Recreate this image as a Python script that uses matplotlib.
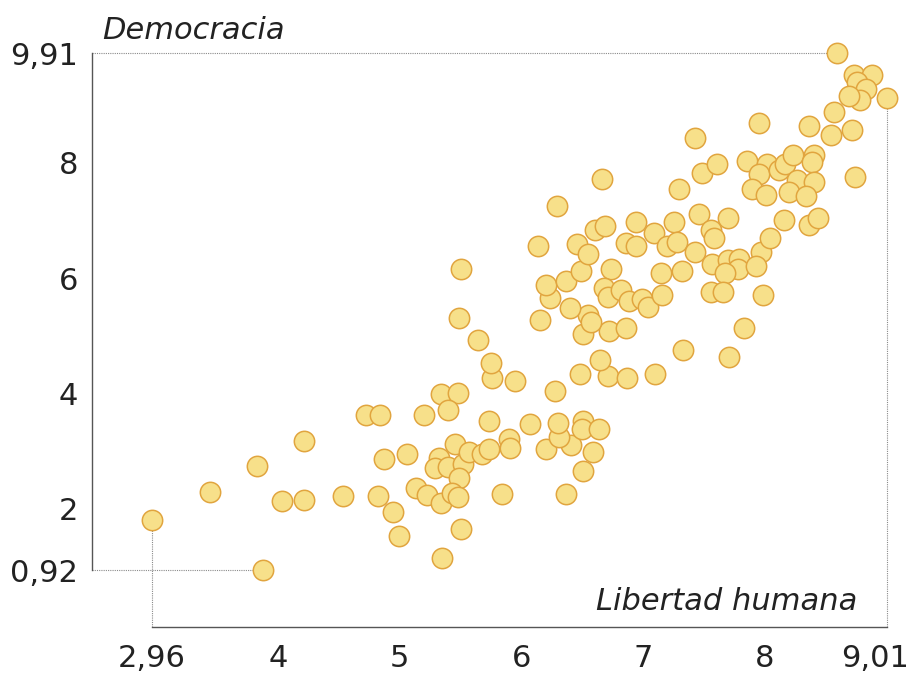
import matplotlib.pyplot as plt
from matplotlib.transforms import ScaledTranslation

plt.rcParams['font.family'] = ['DejaVu Sans']

# Libertad humana (x) vs Democracia (y), one point per country
libertad = [
    2.96, 3.44, 3.82, 3.87, 4.03, 4.21, 4.21, 4.53, 4.72, 4.84,
    4.87, 5.06, 4.82, 4.94, 4.99, 5.13, 5.20, 5.22, 5.34, 5.48,
    5.40, 5.45, 5.32, 5.29, 5.40, 5.52, 5.49, 5.34, 5.43, 5.48,
    5.50, 5.35, 5.57, 5.68, 5.73, 5.90, 5.91, 5.84, 6.37, 6.51,
    6.20, 6.59, 6.41, 6.31, 6.51, 6.50, 6.64, 6.30, 6.07, 5.73,
    6.28, 5.76, 5.95, 6.48, 6.71, 6.87, 7.10, 6.65, 7.33, 7.71,
    5.75, 5.64, 5.49, 5.50, 6.15, 6.51, 6.72, 6.86, 6.55, 6.57,
    6.40, 6.24, 6.20, 6.37, 6.49, 6.74, 6.68, 6.71, 6.82, 6.89,
    6.99, 7.04, 7.16, 7.15, 7.32, 6.14, 6.46, 6.55, 6.29, 6.66,
    6.61, 6.69, 6.94, 6.86, 6.94, 7.09, 7.20, 7.26, 7.28, 7.30,
    7.49, 7.61, 7.43, 7.46, 7.70, 7.56, 7.59, 7.43, 7.57, 7.70,
    7.79, 7.78, 7.68, 7.97, 7.93, 8.05, 8.16, 8.37, 8.44, 7.56,
    7.66, 7.99, 7.83, 7.86, 8.02, 7.96, 8.12, 8.17, 8.24, 8.41,
    8.39, 8.27, 8.41, 7.90, 8.01, 8.20, 8.34, 8.75, 7.96, 8.37,
    8.57, 8.55, 8.72, 8.60, 8.74, 8.89, 8.76, 8.84, 8.79, 8.70,
    9.01,
]
democracia = [
    1.80, 2.29, 2.74, 0.92, 2.13, 2.14, 3.17, 2.22, 3.62, 3.62,
    2.85, 2.95, 2.21, 1.94, 1.51, 2.35, 3.62, 2.23, 3.99, 4.00,
    3.71, 3.12, 2.88, 2.70, 2.72, 2.77, 2.52, 2.09, 2.26, 2.19,
    1.64, 1.13, 2.98, 2.94, 3.03, 3.20, 3.04, 2.25, 2.25, 2.64,
    3.03, 2.98, 3.10, 3.24, 3.51, 3.38, 3.37, 3.48, 3.46, 3.52,
    4.03, 4.26, 4.21, 4.34, 4.29, 4.27, 4.33, 4.58, 4.75, 4.62,
    4.52, 4.93, 5.31, 6.15, 5.27, 5.03, 5.08, 5.13, 5.36, 5.24,
    5.48, 5.65, 5.88, 5.95, 6.12, 6.15, 5.82, 5.67, 5.79, 5.61,
    5.63, 5.49, 5.71, 6.08, 6.12, 6.55, 6.60, 6.41, 7.26, 7.72,
    6.84, 6.91, 6.98, 6.61, 6.55, 6.78, 6.55, 6.98, 6.62, 7.54,
    7.82, 7.99, 8.44, 7.11, 7.04, 6.84, 6.69, 6.45, 6.24, 6.31,
    6.33, 6.16, 6.09, 6.46, 6.21, 6.69, 7.01, 6.92, 7.05, 5.76,
    5.76, 5.71, 5.13, 8.03, 7.99, 7.81, 7.87, 7.98, 8.14, 8.14,
    8.02, 7.70, 7.67, 7.54, 7.44, 7.49, 7.43, 7.76, 8.69, 8.64,
    8.89, 8.49, 8.57, 9.91, 9.53, 9.53, 9.40, 9.28, 9.10, 9.16,
    9.12,
]

x_min, x_max = min(libertad), max(libertad)
y_min, y_max = min(democracia), max(democracia)
x_ticks = [x_min, 4, 5, 6, 7, 8, x_max]
y_ticks = [y_min, 2, 4, 6, 8, y_max]


def fmt(v):
    return ('%g' % round(v, 2)).replace('.', ',')


fig = plt.figure(figsize=(9.11, 6.77), dpi=100)
ax = fig.add_axes([0.101, 0.0739, 0.8924, 0.8966])
ax.set_xlim(2.466, 9.158)
ax.set_ylim(-0.062, 10.484)

# dotted guides from the axes to the extreme points
grey = '#8a8a8a'
i_xmin = libertad.index(x_min)
i_xmax = libertad.index(x_max)
i_ymin = democracia.index(y_min)
i_ymax = democracia.index(y_max)
y_base = ax.get_ylim()[0]
x_base = ax.get_xlim()[0]
dots = dict(color=grey, lw=0.8, ls=(0, (1, 1)), zorder=1)
ax.plot([x_min, x_min], [y_base, democracia[i_xmin]], **dots)
ax.plot([x_max, x_max], [y_base, democracia[i_xmax]], **dots)
ax.plot([x_base, libertad[i_ymin]], [y_min, y_min], **dots)
ax.plot([x_base, libertad[i_ymax]], [y_max, y_max], **dots)

ax.scatter(libertad, democracia, s=215, c='#f7e08a', edgecolors='#e1a53f',
           linewidths=1.1, zorder=3)

for side in ['top', 'right']:
    ax.spines[side].set_visible(False)
for side in ['left', 'bottom']:
    ax.spines[side].set_color('#555555')
    ax.spines[side].set_linewidth(1.0)
ax.spines['left'].set_bounds(y_min, y_max)
ax.spines['bottom'].set_bounds(x_min, x_max)

ax.set_xticks(x_ticks)
ax.set_xticklabels([fmt(v) for v in x_ticks])
ax.set_yticks(y_ticks)
ax.set_yticklabels([fmt(v) for v in y_ticks])
ax.tick_params(length=0, labelsize=22, colors='#222222')
ax.tick_params(axis='x', pad=12)
ax.tick_params(axis='y', pad=10)

# last x label pulled left so it stays inside the figure
last = ax.get_xticklabels()[-1]
last.set_transform(last.get_transform() + ScaledTranslation(-12 / 100, 0, fig.dpi_scale_trans))

fig.text(102 / 911, 1 - 39 / 677, 'Democracia', fontsize=22,
         style='italic', color='#222222', ha='left', va='baseline')
ax.annotate('Libertad humana', xy=(x_max, y_base), xycoords='data',
            xytext=(-21, 12), textcoords='offset points', fontsize=22,
            style='italic', color='#222222', ha='right', va='baseline')

fig.savefig('out.png', dpi=100)
